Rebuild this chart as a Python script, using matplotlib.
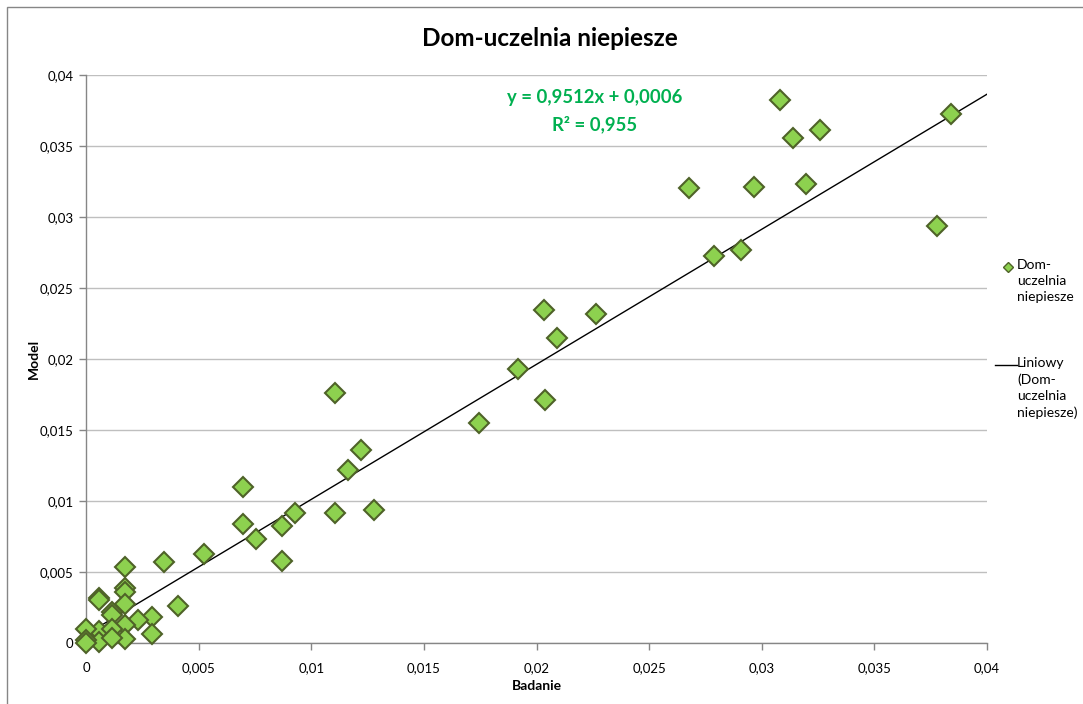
import matplotlib
matplotlib.use("Agg")
import matplotlib.pyplot as plt
from matplotlib.lines import Line2D
from matplotlib.patches import Rectangle
from matplotlib.ticker import FuncFormatter, MultipleLocator

plt.rcParams['font.family'] = ['Lato', 'DejaVu Sans']

# Survey (Badanie) vs model shares for home-university non-walking trips
badanie = [
    0.03839, 0.03081, 0.03139, 0.03257, 0.02676, 0.02966, 0.03196, 0.03778,
    0.02789, 0.02906, 0.02033, 0.02264, 0.02090, 0.01918, 0.02036, 0.01745,
    0.01105, 0.01220, 0.01162, 0.01105, 0.01279, 0.00929, 0.00697, 0.00697,
    0.00755, 0.00872, 0.00872, 0.00522, 0.00348, 0.00407, 0.00292, 0.00292,
    0.00233, 0.00175, 0.00175, 0.00175, 0.00175, 0.00175, 0.00175, 0.00058,
    0.00058, 0.00058, 0.00058, 0.00117, 0.00117, 0.00117, 0.00117, 0.0,
    0.0, 0.0,
]
model = [
    0.03728, 0.03824, 0.03557, 0.03616, 0.03201, 0.03211, 0.03232, 0.02936,
    0.02725, 0.02765, 0.02348, 0.02320, 0.02150, 0.01933, 0.01713, 0.01547,
    0.01762, 0.01362, 0.01216, 0.00919, 0.00940, 0.00916, 0.01097, 0.00837,
    0.00733, 0.00823, 0.00574, 0.00628, 0.00569, 0.00258, 0.00181, 0.00061,
    0.00162, 0.00532, 0.00387, 0.00359, 0.00272, 0.00127, 0.00028, 0.00319,
    0.00302, 0.00082, 0.00010, 0.00216, 0.00197, 0.00101, 0.00033, 0.00096,
    0.00020, 0.0,
]

# Linear trend line coefficients and fit quality
slope = 0.9512
intercept = 0.0006
r_squared = 0.955

series_name = "Dom-uczelnia niepiesze"
x_max = 0.04
y_max = 0.04

W, H = 1083, 704
fig = plt.figure(figsize=(W / 100, H / 100), dpi=100)
fig.patch.set_facecolor('white')

# chart frame
fig.patches.append(Rectangle((7 / W, -0.1), 2.0, 1 - 7 / H + 0.1,
                             transform=fig.transFigure, fill=False,
                             edgecolor='#868686', linewidth=1.0))

ax = fig.add_axes([86 / W, (H - 643) / H, 901 / W, 568 / H])
ax.set_xlim(0, x_max)
ax.set_ylim(0, y_max)

grey = '#868686'
for side in ['top', 'right']:
    ax.spines[side].set_visible(False)
for side in ['left', 'bottom']:
    ax.spines[side].set_color(grey)
    ax.spines[side].set_linewidth(1.0)

ax.xaxis.set_major_locator(MultipleLocator(0.005))
ax.yaxis.set_major_locator(MultipleLocator(0.005))


def comma_fmt(v, pos):
    if abs(v) < 1e-12:
        return "0"
    return f"{v:.3f}".rstrip('0').replace('.', ',')


ax.xaxis.set_major_formatter(FuncFormatter(comma_fmt))
ax.yaxis.set_major_formatter(FuncFormatter(comma_fmt))
ax.tick_params(axis='both', colors=grey, labelcolor='black', labelsize=9.5,
               length=5, width=1.0, direction='out')
ax.tick_params(axis='x', pad=9)
ax.tick_params(axis='y', pad=4)

ax.yaxis.grid(True, color='#BFBFBF', linewidth=1.0)
ax.set_axisbelow(True)

# trend line
xs = [0, x_max]
ax.plot(xs, [slope * v + intercept for v in xs], color='black', linewidth=1.0,
        zorder=3)

# scatter
ax.plot(badanie, model, linestyle='none', marker='D', markersize=10.5,
        markerfacecolor='#8DD14F', markeredgecolor='#4F6228',
        markeredgewidth=1.5, zorder=4, clip_on=False)

ax.set_xlabel("Badanie", fontsize=10, fontweight='bold', labelpad=4)
ax.set_ylabel("Model", fontsize=10, fontweight='bold', labelpad=0)

fig.text(550 / W, 1 - 38 / H, series_name, ha='center', va='center',
         fontsize=17.5, fontweight='bold')

eq = f"y = {slope:.4f}x + {intercept:.4f}".replace('.', ',')
r2 = f"R² = {r_squared:.3f}".replace('.', ',')
fig.text(595 / W, 1 - 98 / H, eq, ha='center', va='center', fontsize=13.3,
         fontweight='bold', color='#00B050')
fig.text(595 / W, 1 - 124 / H, r2, ha='center', va='center', fontsize=13.3,
         fontweight='bold', color='#00B050')

# legend
fig.lines.append(Line2D([1008 / W], [1 - 267 / H], transform=fig.transFigure,
                        marker='D', markersize=5.5, markerfacecolor='#8DD14F',
                        markeredgecolor='#4F6228', markeredgewidth=1.0,
                        linestyle='none'))
fig.text(1017 / W, 1 - 259 / H, "Dom-\nuczelnia\nniepiesze", ha='left',
         va='top', fontsize=10, linespacing=1.4)
fig.lines.append(Line2D([995 / W, 1017 / W], [1 - 365 / H, 1 - 365 / H],
                        transform=fig.transFigure, color='black',
                        linewidth=1.0))
fig.text(1017 / W, 1 - 357 / H, "Liniowy\n(Dom-\nuczelnia\nniepiesze)",
         ha='left', va='top', fontsize=10, linespacing=1.4)

fig.savefig("out.png", dpi=100, facecolor='white')
